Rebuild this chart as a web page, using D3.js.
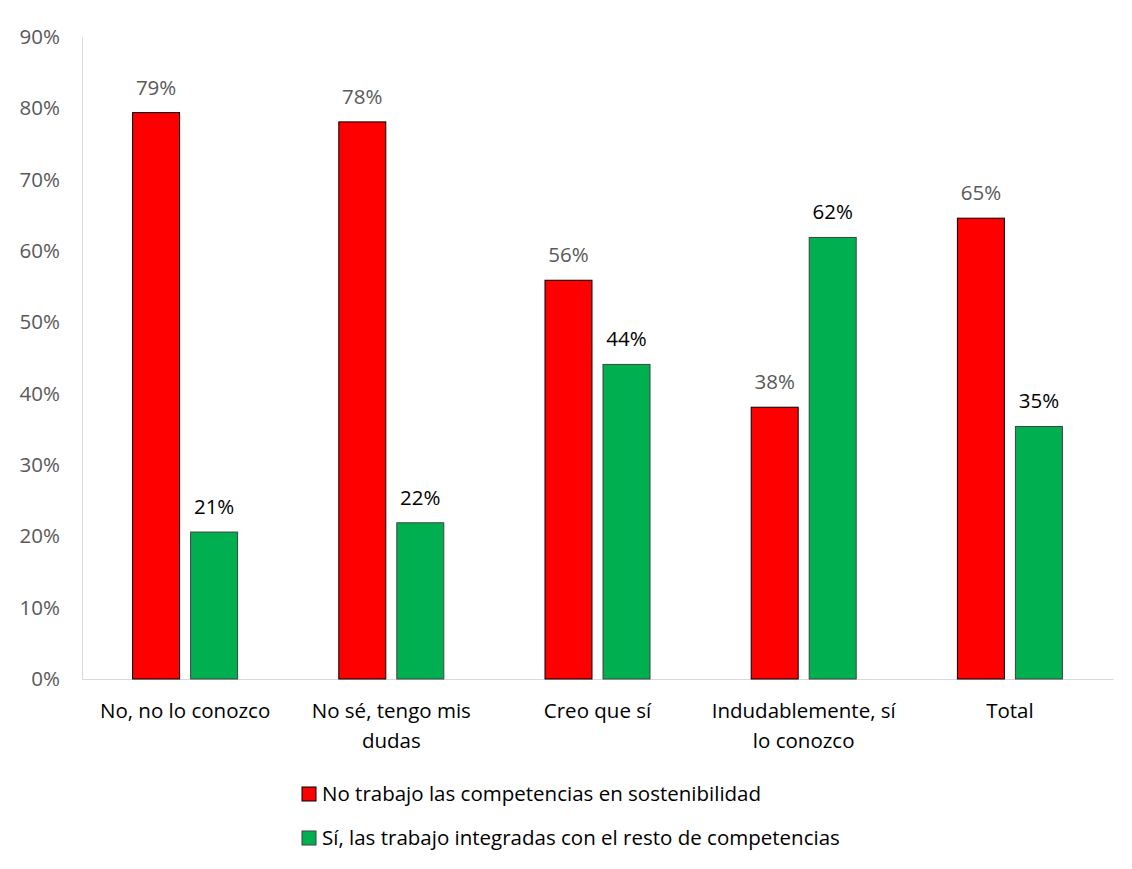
<!DOCTYPE html>
<html>
<head>
<meta charset="utf-8">
<script src="https://cdn.jsdelivr.net/npm/d3@7"></script>
<style>
  body { margin: 0; background: #fff; }
  svg text { font-family: "Open Sans", "Noto Sans", sans-serif; }
</style>
</head>
<body>
<svg id="chart" width="1132" height="869"></svg>
<script>
// data
const categories = [["No, no lo conozco"], ["No sé, tengo mis", "dudas"], ["Creo que sí"], ["Indudablemente, sí", "lo conozco"], ["Total"]];
const seriesNames = ["No trabajo las competencias en sostenibilidad", "Sí, las trabajo integradas con el resto de competencias"];
const noTrabajo = [79.4, 78.1, 55.9, 38.1, 64.6];
const siTrabajo = [20.6, 21.9, 44.1, 61.9, 35.4];
const yTicks = [0, 10, 20, 30, 40, 50, 60, 70, 80, 90];

const colors = ["#ff0000", "#00b050"];
const strokes = ["#000000", "#404040"];
const labelColors = ["#595959", "#000000"];

const margin = { top: 37, left: 82, right: 19, bottom: 190 };
const W = 1132, H = 869;
const fs = "20.5px";
const svg = d3.select("#chart");

const x = d3.scaleBand()
  .domain(d3.range(categories.length))
  .range([margin.left, W - margin.right]);

const sub = d3.scaleBand()
  .domain([0, 1])
  .range([0, 105])
  .paddingInner(0.19);

const y = d3.scaleLinear()
  .domain([0, 90])
  .range([H - margin.bottom, margin.top]);

// y axis
const yAxis = d3.axisLeft(y).tickValues(yTicks).tickFormat(d => d + "%").tickSize(0).tickPadding(22);
const yG = svg.append("g").attr("transform", `translate(${margin.left},0)`).call(yAxis);
yG.select(".domain").attr("stroke", "#d9d9d9");
yG.selectAll("text").attr("fill", "#595959").style("font-size", fs);

// x axis
const xAxis = d3.axisBottom(x).tickSize(0).tickFormat("");
const xG = svg.append("g").attr("transform", `translate(0,${y(0)})`).call(xAxis);
xG.select(".domain").attr("stroke", "#d9d9d9");

xG.selectAll(".tick").each(function(d) {
  const t = d3.select(this).append("text")
    .attr("fill", "#000")
    .attr("text-anchor", "middle")
    .style("font-size", fs);
  categories[d].forEach((line, i) => {
    t.append("tspan").attr("x", 0).attr("y", 39 + i * 30).text(line);
  });
});

const series = [noTrabajo, siTrabajo];
series.forEach((vals, s) => {
  const g = svg.append("g");
  g.selectAll("rect").data(vals).join("rect")
    .attr("x", (d, i) => x(i) + x.bandwidth() / 2 - 52.5 + sub(s))
    .attr("y", d => y(d))
    .attr("width", sub.bandwidth())
    .attr("height", d => y(0) - y(d))
    .attr("fill", colors[s])
    .attr("stroke", strokes[s])
    .attr("stroke-width", 1);
  g.selectAll("text").data(vals).join("text")
    .attr("x", (d, i) => x(i) + x.bandwidth() / 2 - 52.5 + sub(s) + sub.bandwidth() / 2)
    .attr("y", d => y(d) - 18)
    .attr("text-anchor", "middle")
    .attr("fill", labelColors[s])
    .style("font-size", fs)
    .text(d => Math.round(d) + "%");
});

// legend
const legend = svg.append("g").attr("transform", "translate(302,0)");
seriesNames.forEach((name, s) => {
  const ly = 794 + s * 44;
  legend.append("rect")
    .attr("x", 0).attr("y", ly - 7).attr("width", 14).attr("height", 14)
    .attr("fill", colors[s]).attr("stroke", strokes[s]);
  legend.append("text")
    .attr("x", 20).attr("y", ly).attr("dy", "0.35em")
    .attr("fill", "#000")
    .style("font-size", fs)
    .text(name);
});
</script>
</body>
</html>
